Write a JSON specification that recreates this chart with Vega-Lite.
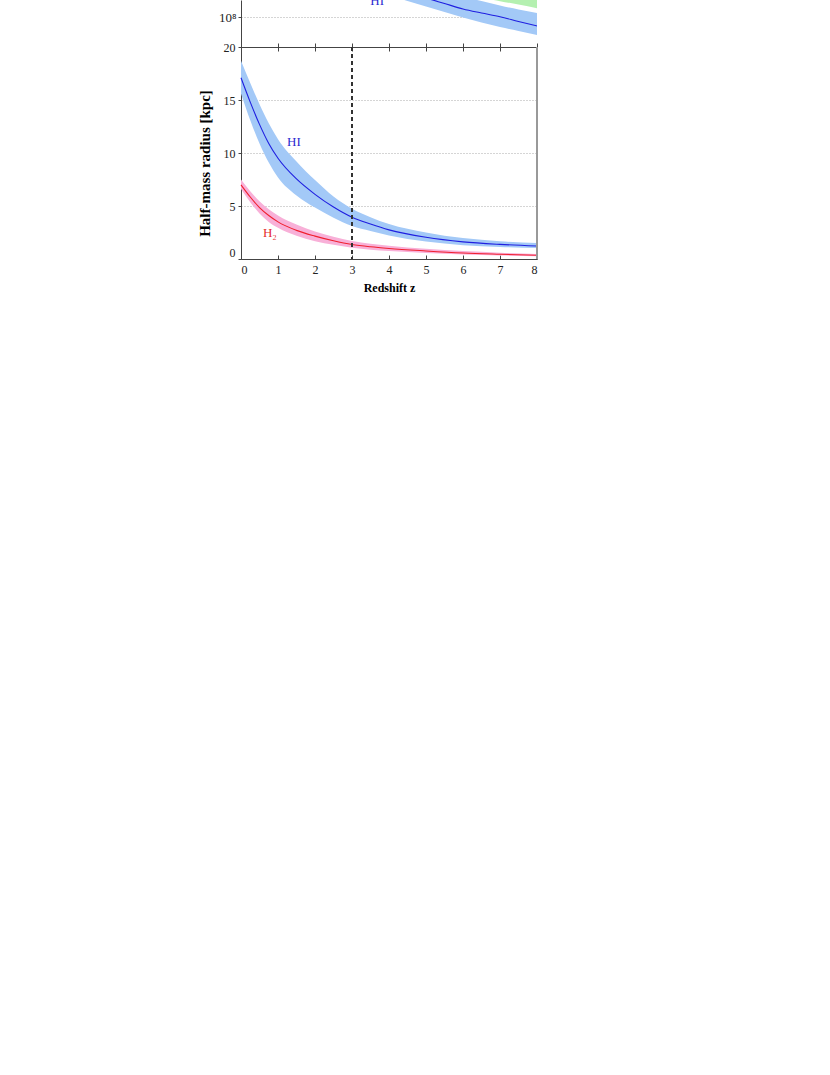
{
  "$schema": "https://vega.github.io/schema/vega-lite/v6.json",
  "padding": {"left": 197, "top": 0, "right": 5, "bottom": 5},
  "autosize": {"type": "pad"},
  "background": "white",
  "spacing": 0,
  "bounds": "flush",
  "config": {
    "font": "Liberation Serif",
    "view": {"stroke": null},
    "axis": {
      "labelFont": "Liberation Serif",
      "titleFont": "Liberation Serif",
      "labelColor": "#222",
      "titleColor": "#000",
      "domainColor": "#444",
      "tickColor": "#444",
      "labelFontSize": 12,
      "titleFontSize": 12,
      "titleFontWeight": "bold",
      "gridColor": "#aaa",
      "gridDash": [1, 2],
      "ticks": true
    }
  },
  "datasets": {
    "topHI": [
      {"z": 3, "lo": 383100000, "mid": 562300000, "hi": 707900000},
      {"z": 4, "lo": 232600000, "mid": 328600000, "hi": 446700000},
      {"z": 4.5, "lo": 184800000, "mid": 261000000, "hi": 368700000},
      {"z": 5, "lo": 149100000, "mid": 207400000, "hi": 304300000},
      {"z": 5.5, "lo": 121200000, "mid": 167900000, "hi": 251200000},
      {"z": 6, "lo": 98100000, "mid": 135900000, "hi": 215400000},
      {"z": 6.5, "lo": 80980000, "mid": 116600000, "hi": 184800000},
      {"z": 7, "lo": 68130000, "mid": 101160000, "hi": 155500000},
      {"z": 7.5, "lo": 58430000, "mid": 84140000, "hi": 133400000},
      {"z": 8, "lo": 50120000, "mid": 70790000, "hi": 116600000}
    ],
    "topGreen": [
      {"z": 5, "lo": 328600000, "hi": 750000000},
      {"z": 6, "lo": 241800000, "hi": 562300000},
      {"z": 6.5, "lo": 209800000, "hi": 488000000},
      {"z": 7, "lo": 183400000, "hi": 426600000},
      {"z": 7.5, "lo": 161600000, "hi": 375800000},
      {"z": 8, "lo": 139600000, "hi": 324900000}
    ],
    "topLabels": [
      {"z": 3.68, "v": 158500000, "label": "HI"}
    ],
    "radius": [
      {"s": "HI", "z": 0, "lo": 15.6, "mid": 17.1, "hi": 18.7},
      {"s": "HI", "z": 0.25, "lo": 13.1, "mid": 14.8, "hi": 16.6},
      {"s": "HI", "z": 0.5, "lo": 10.9, "mid": 12.7, "hi": 14.6},
      {"s": "HI", "z": 0.75, "lo": 9.1, "mid": 10.9, "hi": 12.8},
      {"s": "HI", "z": 1, "lo": 7.7, "mid": 9.5, "hi": 11.3},
      {"s": "HI", "z": 1.5, "lo": 6.0, "mid": 7.55, "hi": 9.2},
      {"s": "HI", "z": 2, "lo": 4.85, "mid": 6.1, "hi": 7.45},
      {"s": "HI", "z": 2.5, "lo": 3.9, "mid": 4.9, "hi": 5.9},
      {"s": "HI", "z": 3, "lo": 3.12, "mid": 3.94, "hi": 4.75},
      {"s": "HI", "z": 3.5, "lo": 2.65, "mid": 3.3, "hi": 3.95},
      {"s": "HI", "z": 4, "lo": 2.22, "mid": 2.75, "hi": 3.3},
      {"s": "HI", "z": 5, "lo": 1.65, "mid": 2.05, "hi": 2.5},
      {"s": "HI", "z": 6, "lo": 1.3, "mid": 1.62, "hi": 1.97},
      {"s": "HI", "z": 7, "lo": 1.13, "mid": 1.38, "hi": 1.67},
      {"s": "HI", "z": 8, "lo": 1.03, "mid": 1.22, "hi": 1.5},
      {"s": "H2", "z": 0, "lo": 6.6, "mid": 7.0, "hi": 7.5},
      {"s": "H2", "z": 0.25, "lo": 5.35, "mid": 5.85, "hi": 6.4},
      {"s": "H2", "z": 0.5, "lo": 4.3, "mid": 4.85, "hi": 5.45},
      {"s": "H2", "z": 0.75, "lo": 3.5, "mid": 4.1, "hi": 4.7},
      {"s": "H2", "z": 1, "lo": 2.95, "mid": 3.5, "hi": 4.1},
      {"s": "H2", "z": 1.5, "lo": 2.2, "mid": 2.7, "hi": 3.25},
      {"s": "H2", "z": 2, "lo": 1.68, "mid": 2.16, "hi": 2.6},
      {"s": "H2", "z": 2.5, "lo": 1.35, "mid": 1.72, "hi": 2.1},
      {"s": "H2", "z": 3, "lo": 1.07, "mid": 1.37, "hi": 1.7},
      {"s": "H2", "z": 3.5, "lo": 0.88, "mid": 1.15, "hi": 1.45},
      {"s": "H2", "z": 4, "lo": 0.75, "mid": 0.99, "hi": 1.25},
      {"s": "H2", "z": 5, "lo": 0.57, "mid": 0.76, "hi": 0.97},
      {"s": "H2", "z": 6, "lo": 0.42, "mid": 0.57, "hi": 0.75},
      {"s": "H2", "z": 7, "lo": 0.32, "mid": 0.45, "hi": 0.6},
      {"s": "H2", "z": 8, "lo": 0.25, "mid": 0.35, "hi": 0.48}
    ],
    "bottomLabels": [
      {"s": "HI", "z": 1.43, "v": 11.0, "label": "HI"},
      {"s": "H2", "z": 0.78, "v": 2.45, "label": "H₂"}
    ]
  },
  "vconcat": [
    {
      "width": 296,
      "height": 47,
      "resolve": {"axis": {"x": "independent", "y": "independent"}},
      "layer": [
        {
          "data": {"name": "topGreen"},
          "mark": {"type": "area", "color": "#b4f0b0", "clip": true, "interpolate": "monotone"},
          "encoding": {
            "x": {"field": "z", "type": "quantitative", "scale": {"domain": [0, 8], "nice": false},
              "axis": {"orient": "bottom", "values": [0, 1, 2, 3, 4, 5, 6, 7, 8], "labels": false, "tickSize": -4, "title": null, "grid": false}},
            "y": {"field": "hi", "type": "quantitative", "scale": {"type": "log", "domain": [31622777, 192040000], "nice": false},
              "axis": {"values": [100000000], "labelExpr": "'10⁸'", "labelFontSize": 13, "title": " ", "titleFontSize": 15, "tickSize": 3, "grid": true, "labelPadding": 2, "minExtent": 24, "maxExtent": 24, "titlePadding": 5}},
            "y2": {"field": "lo"}
          }
        },
        {
          "data": {"name": "topHI"},
          "mark": {"type": "area", "color": "#a3c9f7", "clip": true, "interpolate": "monotone"},
          "encoding": {
            "x": {"field": "z", "type": "quantitative", "axis": null},
            "y": {"field": "hi", "type": "quantitative", "axis": null},
            "y2": {"field": "lo"}
          }
        },
        {
          "data": {"name": "topHI"},
          "mark": {"type": "line", "color": "#1f1fe0", "strokeWidth": 1.1, "clip": true, "interpolate": "monotone"},
          "encoding": {
            "x": {"field": "z", "type": "quantitative", "axis": null},
            "y": {"field": "mid", "type": "quantitative", "axis": null}
          }
        },
        {
          "data": {"name": "topLabels"},
          "mark": {"type": "text", "color": "#2a2ad0", "fontSize": 13, "font": "Liberation Serif", "baseline": "alphabetic", "align": "center", "clip": true},
          "encoding": {
            "x": {"field": "z", "type": "quantitative", "axis": null},
            "y": {"field": "v", "type": "quantitative", "axis": null},
            "text": {"field": "label"}
          }
        },
        {
          "mark": {"type": "rule", "color": "#333", "strokeDash": [4, 3], "strokeWidth": 0.6},
          "encoding": {"x": {"datum": 3, "type": "quantitative", "axis": null}}
        },
        {
          "mark": {"type": "rule", "color": "#999", "strokeWidth": 2},
          "encoding": {"x": {"datum": 8, "type": "quantitative", "axis": null}}
        }
      ]
    },
    {
      "width": 296,
      "height": 212,
      "data": {"name": "radius"},
      "resolve": {"axis": {"x": "independent", "y": "independent"}},
      "layer": [
        {
          "transform": [{"filter": "datum.s == 'HI'"}],
          "mark": {"type": "area", "color": "#a3c9f7", "interpolate": "monotone"},
          "encoding": {
            "x": {"field": "z", "type": "quantitative", "scale": {"domain": [0, 8], "nice": false},
              "axis": {"orient": "bottom", "values": [0, 1, 2, 3, 4, 5, 6, 7, 8], "tickSize": -4, "labelPadding": 9, "title": "Redshift z", "titlePadding": 7, "grid": false}},
            "y": {"field": "hi", "type": "quantitative", "scale": {"domain": [0, 20], "nice": false},
              "axis": {"values": [0, 5, 10, 15, 20], "title": "Half-mass radius [kpc]", "titleFontSize": 15, "titleY": 116, "tickSize": 3, "grid": true, "labelPadding": 3, "minExtent": 24, "maxExtent": 24, "titlePadding": 5,
                "labelBaseline": {"condition": {"test": "datum.value == 0", "value": "bottom"}, "value": "middle"}}},
            "y2": {"field": "lo"}
          }
        },
        {
          "transform": [{"filter": "datum.s == 'H2'"}],
          "mark": {"type": "area", "color": "#f8b0d8", "interpolate": "monotone"},
          "encoding": {
            "x": {"field": "z", "type": "quantitative",
              "axis": {"orient": "top", "values": [0, 1, 2, 3, 4, 5, 6, 7, 8], "labels": false, "tickSize": -4, "title": null, "grid": false}},
            "y": {"field": "hi", "type": "quantitative", "axis": null},
            "y2": {"field": "lo"}
          }
        },
        {
          "transform": [{"filter": "datum.s == 'HI'"}],
          "mark": {"type": "line", "color": "#1f1fe0", "strokeWidth": 1.1, "interpolate": "monotone"},
          "encoding": {
            "x": {"field": "z", "type": "quantitative", "axis": null},
            "y": {"field": "mid", "type": "quantitative", "axis": null}
          }
        },
        {
          "transform": [{"filter": "datum.s == 'H2'"}],
          "mark": {"type": "line", "color": "#f01f2f", "strokeWidth": 1.1, "interpolate": "monotone"},
          "encoding": {
            "x": {"field": "z", "type": "quantitative", "axis": null},
            "y": {"field": "mid", "type": "quantitative", "axis": null}
          }
        },
        {
          "data": {"name": "bottomLabels"},
          "mark": {"type": "text", "fontSize": 13, "font": "Liberation Serif", "align": "center", "baseline": "middle"},
          "encoding": {
            "x": {"field": "z", "type": "quantitative", "axis": null},
            "y": {"field": "v", "type": "quantitative", "axis": null},
            "text": {"field": "label"},
            "color": {"field": "s", "type": "nominal", "scale": {"domain": ["HI", "H2"], "range": ["#2a2ad0", "#e52a2a"]}, "legend": null}
          }
        },
        {
          "mark": {"type": "rule", "color": "#333", "strokeDash": [4, 3], "strokeWidth": 0.6},
          "encoding": {"x": {"datum": 3, "type": "quantitative", "axis": null}}
        },
        {
          "mark": {"type": "rule", "color": "#999", "strokeWidth": 2},
          "encoding": {"x": {"datum": 8, "type": "quantitative", "axis": null}}
        }
      ]
    }
  ]
}
